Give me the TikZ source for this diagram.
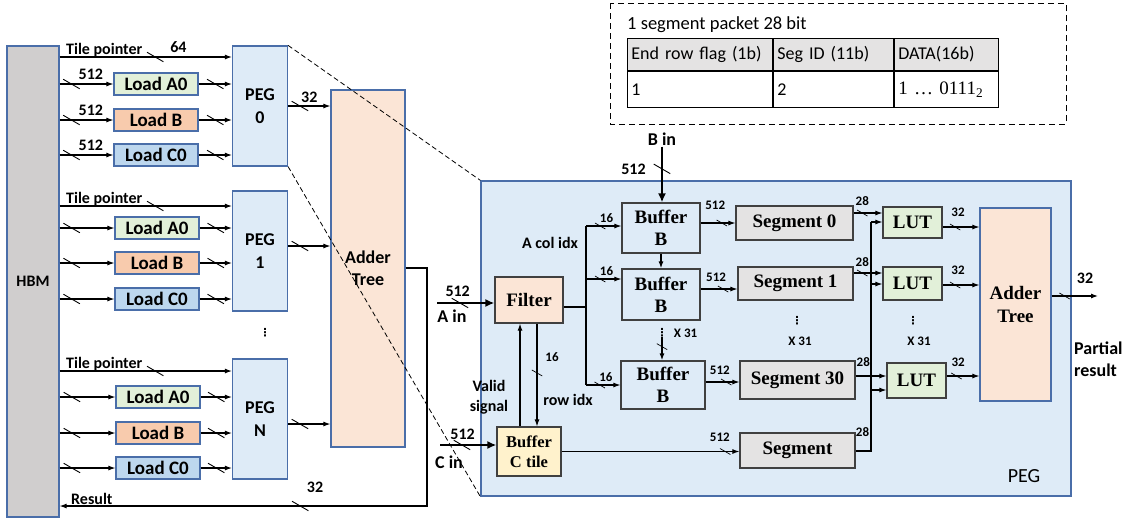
\documentclass[tikz,border=0pt]{standalone}
\usepackage{fontspec}
\setmainfont{Liberation Serif}
\setsansfont{Carlito}
\newfontfamily\vdotfont{DejaVu Sans}
\usetikzlibrary{arrows.meta, positioning}

\definecolor{edgeblue}{HTML}{4A6EA9}
\definecolor{edgedark}{HTML}{404040}
\definecolor{hbmgray}{HTML}{D0CECE}
\definecolor{loada}{HTML}{E2F0D9}
\definecolor{loadb}{HTML}{F8CBAD}
\definecolor{loadc}{HTML}{BDD7EE}
\definecolor{pegblue}{HTML}{DEEBF7}
\definecolor{sumpeach}{HTML}{FBE5D6}
\definecolor{bufyellow}{HTML}{FFF2CC}
\definecolor{seggray}{HTML}{E4E3E3}

\begin{document}
\begin{tikzpicture}[
    x=1pt, y=-1pt,
    hbmbox/.style={rectangle, draw=edgeblue, line width=1.2pt, fill=hbmgray, minimum width=52pt, minimum height=471pt, font=\sffamily\bfseries\fontsize{16}{18}\selectfont},
    loadbox/.style={rectangle, draw=edgeblue, line width=1.2pt, minimum width=84pt, minimum height=22pt, inner sep=0pt, font=\sffamily\bfseries\fontsize{19}{20}\selectfont},
    pegbox/.style={rectangle, draw=edgeblue, line width=1.2pt, fill=pegblue, minimum width=55pt, minimum height=120pt, align=center, font=\sffamily\bfseries\fontsize{18}{23}\selectfont},
    blk/.style={rectangle, draw=edgedark, line width=1.2pt, inner sep=0pt, align=center, font=\bfseries\fontsize{19}{22}\selectfont},
    cell/.style={rectangle, draw, line width=0.9pt, anchor=north west, inner xsep=4pt, inner ysep=0pt, align=left, font=\sffamily\fontsize{18}{20}\selectfont},
    arrow/.style={-{Latex[length=7pt, width=5pt]}, line width=1.1pt},
    busarrow/.style={-{Latex[length=9pt, width=8pt]}, line width=2.6pt},
    wire/.style={line width=1.1pt},
    tick/.style={draw, line width=0.9pt, inner sep=0pt, minimum width=19pt, minimum height=0pt, rotate=-30},
    stick/.style={tick, minimum width=12pt, line width=0.7pt},
    lbl/.style={inner sep=1pt, font=\sffamily\bfseries\fontsize{16}{20}\selectfont},
    slbl/.style={inner sep=1pt, font=\sffamily\bfseries\fontsize{13}{15}\selectfont},
    biglbl/.style={inner sep=1pt, font=\sffamily\bfseries\fontsize{18}{22}\selectfont},
    dots/.style={inner sep=0pt, font=\vdotfont\bfseries\fontsize{11}{11}\selectfont}
]
    \useasboundingbox (0,0) rectangle (1130,520);

    % HBM side
    \node[hbmbox] (hbm) at (33,281.5) {HBM};

    \node[pegbox] (peg0) at (260,106) {PEG\\0};
    \node[loadbox, fill=loada] (la0) at (156,84) {Load A0};
    \node[loadbox, fill=loadb] (lb0) at (156,120) {Load B};
    \node[loadbox, fill=loadc] (lc0) at (156,155) {Load C0};

    \node[pegbox] (peg1) at (260,251) {PEG\\1};
    \node[loadbox, fill=loada] (la1) at (157,228) {Load A0};
    \node[loadbox, fill=loadb] (lb1) at (157,263) {Load B};
    \node[loadbox, fill=loadc] (lc1) at (157,299) {Load C0};

    \node[dots] (pdots) at (265,333) {⋮};

    \node[pegbox] (pegN) at (260,419) {PEG\\N};
    \node[loadbox, fill=loada] (laN) at (158,397) {Load A0};
    \node[loadbox, fill=loadb] (lbN) at (158,433) {Load B};
    \node[loadbox, fill=loadc] (lcN) at (158,468) {Load C0};

    \node[pegbox, fill=sumpeach, minimum width=74pt, minimum height=357pt, font=\sffamily\bfseries\fontsize{18}{22}\selectfont] (sum0) at (368,268.5) {Adder\\Tree};

    % Group 0 arrows
    \node[lbl, anchor=base west] (tp0) at (65,54) {Tile pointer};
    \draw[arrow] (hbm.east |- 0,57) -- node[pos=0.555, tick] {} node[pos=0.69, above=3pt, lbl] {64} (peg0.west |- 0,57);
    \draw[arrow] (hbm.east |- la0) -- node[pos=0.22, tick] {} node[pos=0.58, above=3pt, lbl] {512} (la0);
    \draw[arrow] (hbm.east |- lb0) -- node[pos=0.22, tick] {} node[pos=0.58, above=3pt, lbl] {512} (lb0);
    \draw[arrow] (hbm.east |- lc0) -- node[pos=0.22, tick] {} node[pos=0.58, above=3pt, lbl] {512} (lc0);
    \draw[arrow] (la0) -- node[pos=0.5, tick] {} (la0 -| peg0.west);
    \draw[arrow] (lb0) -- node[pos=0.5, tick] {} (lb0 -| peg0.west);
    \draw[arrow] (lc0) -- node[pos=0.5, tick] {} (lc0 -| peg0.west);
    \draw[arrow] (peg0) -- node[pos=0.28, tick] {} node[pos=0.5, above=2pt, lbl] {32} (peg0 -| sum0.west);

    % Group 1 arrows
    \node[lbl, anchor=base west] (tp1) at (65,203) {Tile pointer};
    \draw[arrow] (hbm.east |- 0,206) -- node[pos=0.555, tick] {} (peg1.west |- 0,206);
    \draw[arrow] (hbm.east |- la1) -- node[pos=0.22, tick] {} (la1);
    \draw[arrow] (hbm.east |- lb1) -- node[pos=0.22, tick] {} (lb1);
    \draw[arrow] (hbm.east |- lc1) -- node[pos=0.22, tick] {} (lc1);
    \draw[arrow] (la1) -- node[pos=0.5, tick] {} (la1 -| peg1.west);
    \draw[arrow] (lb1) -- node[pos=0.5, tick] {} (lb1 -| peg1.west);
    \draw[arrow] (lc1) -- node[pos=0.5, tick] {} (lc1 -| peg1.west);
    \draw[arrow] (peg1.east |- 0,246) -- node[pos=0.28, tick] {} (sum0.west |- 0,246);

    % Group N arrows
    \node[lbl, anchor=base west] (tpN) at (65,368) {Tile pointer};
    \draw[arrow] (hbm.east |- 0,371) -- node[pos=0.555, tick] {} (pegN.west |- 0,371);
    \draw[arrow] (hbm.east |- laN) -- node[pos=0.22, tick] {} (laN);
    \draw[arrow] (hbm.east |- lbN) -- node[pos=0.22, tick] {} (lbN);
    \draw[arrow] (hbm.east |- lcN) -- node[pos=0.22, tick] {} (lcN);
    \draw[arrow] (laN) -- node[pos=0.5, tick] {} (laN -| pegN.west);
    \draw[arrow] (lbN) -- node[pos=0.5, tick] {} (lbN -| pegN.west);
    \draw[arrow] (lcN) -- node[pos=0.5, tick] {} (lcN -| pegN.west);
    \draw[arrow] (pegN.east |- 0,424) -- node[pos=0.28, tick] {} (sum0.west |- 0,424);

    % Result back to HBM
    \coordinate (rturn) at (427,506);
    \draw[arrow] (sum0.east |- 0,268) -| (rturn) -- node[pos=0.345, tick] {} (hbm.east |- rturn);
    \node[lbl] (res32) at (315,487) {32};
    \node[lbl, anchor=west] (reslbl) at (70,499) {Result};

    % PEG detail
    \node[rectangle, draw=edgeblue, fill=pegblue, line width=1.3pt, minimum width=590pt, minimum height=315pt] (pegbig) at (776,338.5) {};
    \node[inner sep=0pt, font=\sffamily\fontsize{20}{22}\selectfont] (peglbl) at (1024,476) {PEG};
    \draw[dashed, line width=0.8pt, dash pattern=on 5pt off 3pt] (peg0.north east) -- (pegbig.north west);
    \draw[dashed, line width=0.8pt, dash pattern=on 5pt off 3pt] (peg0.south east) -- (pegbig.south west);

    % Packet table
    \draw[line width=0.9pt, dash pattern=on 6pt off 4pt] (610,3) rectangle (1066,124);
    \node[anchor=west, inner sep=0pt, font=\sffamily\fontsize{18.5}{20}\selectfont] (pkt) at (627,25) {1 segment packet 28 bit};
    \node[cell, fill=seggray, minimum height=32pt, text width=137pt] (c11) at (627,38) {End row flag (1b)};
    \node[cell, fill=seggray, minimum height=32pt, text width=112pt] (c12) at (c11.north east) {Seg ID (11b)};
    \node[cell, fill=seggray, minimum height=32pt, text width=96pt] (c13) at (c12.north east) {DATA(16b)};
    \node[cell, minimum height=36pt, text width=137pt] (c21) at (c11.south west) {1};
    \node[cell, minimum height=36pt, text width=112pt] (c22) at (c21.north east) {2};
    \node[cell, minimum height=36pt, text width=96pt, font=\rmfamily\fontsize{19}{20}\selectfont] (c23) at (c22.north east) {1 \ldots{} 0111\textsubscript{2}};

    % Inner blocks
    \node[blk, fill=pegblue, minimum width=78pt, minimum height=50pt] (bufb0) at (661,228) {Buffer\\B};
    \node[blk, fill=pegblue, minimum width=78pt, minimum height=51pt] (bufb1) at (661,294.5) {Buffer\\B};
    \node[blk, fill=pegblue, minimum width=84pt, minimum height=48pt] (bufb30) at (663,385) {Buffer\\B};
    \node[blk, fill=sumpeach, minimum width=68pt, minimum height=46pt] (filter) at (529,300) {Filter};
    \node[blk, fill=bufyellow, minimum width=64pt, minimum height=49pt, font=\bfseries\fontsize{16.5}{20}\selectfont] (bufc) at (529,451.5) {Buffer\\C tile};
    \node[blk, fill=seggray, minimum width=117pt, minimum height=34pt] (seg0) at (794.5,223) {Segment 0};
    \node[blk, fill=seggray, minimum width=115pt, minimum height=33pt] (seg1) at (795.5,283.5) {Segment 1};
    \node[blk, fill=seggray, minimum width=115pt, minimum height=38pt] (seg30) at (797.5,380) {Segment 30};
    \node[blk, fill=seggray, minimum width=115pt, minimum height=35pt] (segl) at (797.5,450.5) {Segment};
    \node[blk, fill=loada, minimum width=59pt, minimum height=31pt] (lut0) at (912.5,222.5) {LUT};
    \node[blk, fill=loada, minimum width=59pt, minimum height=33pt] (lut1) at (912.5,283.5) {LUT};
    \node[blk, fill=loada, minimum width=59pt, minimum height=35pt] (lut30) at (916.5,380.5) {LUT};
    \node[blk, draw=edgeblue, fill=sumpeach, minimum width=71pt, minimum height=193pt, font=\bfseries\fontsize{19}{23}\selectfont] (sum1) at (1015.5,304.5) {Adder\\Tree};

    \node[dots] (bdots) at (662,333) {⋮};
    \node[slbl, right=5pt of bdots] (bx31) {X 31};
    \node[dots] (sdots) at (797,321) {⋮};
    \node[slbl] (sx31) at (800,341) {X 31};
    \node[dots] (ldots) at (913,321) {⋮};
    \node[slbl] (lx31) at (919,341) {X 31};

    % Inputs
    \node[biglbl] (bin) at (662,139) {B in};
    \draw[busarrow] (bin) -- node[pos=0.4, tick] {} node[pos=0.4, left=14pt, lbl] {512} (bin |- bufb0.north);
    \coordinate (ain) at (437,303);
    \draw[busarrow] (ain) -- node[pos=0.4, tick] {} node[pos=0.36, above=4pt, lbl] {512} node[pos=0.26, below=5pt, biglbl] {A in} (filter.west |- ain);
    \coordinate (cin) at (440,445);
    \draw[busarrow] (cin) -- node[pos=0.39, tick] {} node[pos=0.4, above=3pt, lbl] {512} node[pos=0.16, below=9pt, biglbl] {C in} (bufc.west |- cin);

    % Filter to buffers
    \coordinate (abus) at (586,307);
    \draw[wire] (filter.east |- abus) -- (abus);
    \draw[wire] (abus |- 0,226) -- (abus |- bufb30.west);
    \draw[arrow] (abus |- 0,226) -- node[pos=0.4, stick] {} node[pos=0.58, above=2pt, slbl] {16} (bufb0.west |- 0,226);
    \draw[arrow] (abus |- 0,279) -- node[pos=0.4, stick] {} node[pos=0.58, above=2pt, slbl] {16} (bufb1.west |- 0,279);
    \draw[arrow] (abus |- bufb30.west) -- node[pos=0.4, stick] {} node[pos=0.58, above=2pt, slbl] {16} (bufb30.west);
    \node[lbl] (acol) at (550,243) {A col idx};

    \draw[arrow, line width=1.6pt] (bufb0) -- (bufb1);
    \draw[arrow, line width=1.6pt] (bdots) -- node[pos=0.4, stick] {} (bdots |- bufb30.north);

    \draw[arrow] (bufc.north -| 520,0) -- (filter.south -| 520,0);
    \draw[arrow] (filter.south -| 537,0) -- node[pos=0.48, stick] {} (bufc.north -| 537,0);
    \node[slbl] (r16) at (552,357) {16};
    \node[lbl] (ridx) at (568,400) {row idx};
    \node[lbl, align=center] (valid) at (489,397) {Valid\\signal};

    % Buffers to segments
    \draw[arrow] (bufb0.east |- seg0.west) -- node[pos=0.61, stick] {} node[pos=0.42, above=12pt, slbl] {512} (seg0.west);
    \draw[arrow] (bufb1.east |- 0,289) -- node[pos=0.61, stick] {} node[pos=0.42, above=6pt, slbl] {512} (seg1.west |- 0,289);
    \draw[arrow] (bufb30.east |- 0,382) -- node[pos=0.61, stick] {} node[pos=0.42, above=6pt, slbl] {512} (seg30.west |- 0,382);
    \draw[arrow] (bufc) -- node[pos=0.92, stick] {} node[pos=0.89, above=8pt, slbl] {512} (segl.west |- bufc);

    % Segments to LUTs
    \draw[arrow] (seg0.east |- 0,213) -- node[pos=0.3, stick] {} node[pos=0.3, above=6pt, slbl] {28} (lut0.west |- 0,213);
    \draw[arrow] (seg1.east |- 0,273) -- node[pos=0.3, stick] {} node[pos=0.3, above=5pt, slbl] {28} (lut1.west |- 0,273);
    \draw[arrow] (seg30.east |- 0,376) -- node[pos=0.25, above=8pt, slbl] {28} (lut30.west |- 0,376);
    \coordinate (lbus) at (871,451);
    \draw[wire] (segl.east |- lbus) -- node[pos=0.45, above=13pt, slbl] {28} (lbus) -- (lbus |- 0,222);
    \draw[arrow] (lbus |- 0,222) -- (lut0.west |- 0,222);
    \draw[arrow] (lbus |- 0,284) -- (lut1.west |- 0,284);
    \draw[arrow] (lbus |- 0,390) -- (lut30.west |- 0,390);

    % LUTs to adder tree
    \draw[arrow] (lut0.east |- 0,227) -- node[pos=0.34, stick] {} node[pos=0.42, above=9pt, slbl] {32} (sum1.west |- 0,227);
    \draw[arrow] (lut1.east |- 0,285) -- node[pos=0.34, stick] {} node[pos=0.42, above=9pt, slbl] {32} (sum1.west |- 0,285);
    \draw[arrow] (lut30.east |- 0,376) -- node[pos=0.3, stick] {} node[pos=0.35, above=8pt, slbl] {32} (sum1.west |- 0,376);

    % Output
    \coordinate (pout) at (1098,296);
    \draw[arrow] (sum1.east |- pout) -- node[pos=0.28, stick] {} node[pos=0.72, above=11pt, lbl] {32} (pout);
    \node[biglbl, align=left, anchor=west] (partial) at (1073,359) {Partial\\result};
\end{tikzpicture}
\end{document}
